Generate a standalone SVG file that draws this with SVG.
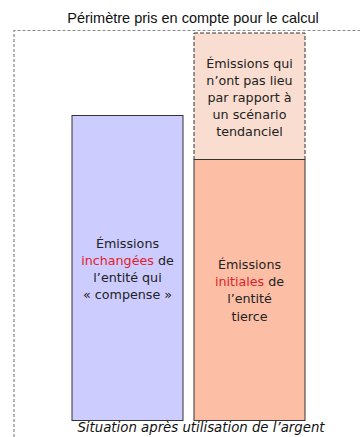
<svg xmlns="http://www.w3.org/2000/svg" width="360" height="437" viewBox="0 0 360 437">
<style>
.box{font-family:"DejaVu Sans",Tahoma,sans-serif;font-size:12.7px;fill:#222;text-anchor:middle}
.red{fill:#e3202b}
.title{font-family:"Liberation Sans",Arial,sans-serif;font-size:14.5px;fill:#111;text-anchor:middle}
.cap{font-family:"DejaVu Sans",sans-serif;font-style:italic;font-size:13.3px;fill:#111;text-anchor:middle}
</style>
<rect width="360" height="437" fill="#fff"/>
<g id="perimeter">
<path d="M14,437 V30.5 H362" fill="none" stroke="#888" stroke-width="1.2" stroke-dasharray="3,2"/>
<text class="title" x="193" y="23">Périmètre pris en compte pour le calcul</text>
</g>
<g id="compense">
<rect x="72" y="115.5" width="111" height="305" fill="#ccccff" stroke="#333" stroke-width="1"/>
<text class="box" x="127.5" y="247.5">Émissions</text>
<text class="box" x="127.5" y="264.5"><tspan class="red">inchangées</tspan> de</text>
<text class="box" x="127.5" y="281.5">l’entité qui</text>
<text class="box" x="127.5" y="298.5">« compense »</text>
</g>
<g id="evitees">
<rect x="194" y="33" width="111" height="126.5" fill="#f9ddd0" stroke="#333" stroke-width="1" stroke-dasharray="4,2"/>
<text class="box" x="249.5" y="67.5">Émissions qui</text>
<text class="box" x="249.5" y="85">n’ont pas lieu</text>
<text class="box" x="249.5" y="102">par rapport à</text>
<text class="box" x="249.5" y="119">un scénario</text>
<text class="box" x="249.5" y="136">tendanciel</text>
</g>
<g id="tierce">
<rect x="194" y="159.5" width="111" height="261" fill="#fcbfa6" stroke="#333" stroke-width="1"/>
<text class="box" x="249.5" y="268.5">Émissions</text>
<text class="box" x="249.5" y="285.5"><tspan class="red">initiales</tspan> de</text>
<text class="box" x="249.5" y="303">l’entité</text>
<text class="box" x="249.5" y="321">tierce</text>
</g>
<g id="connectors"/>
<text class="cap" x="201" y="432">Situation après utilisation de l’argent</text>
</svg>
